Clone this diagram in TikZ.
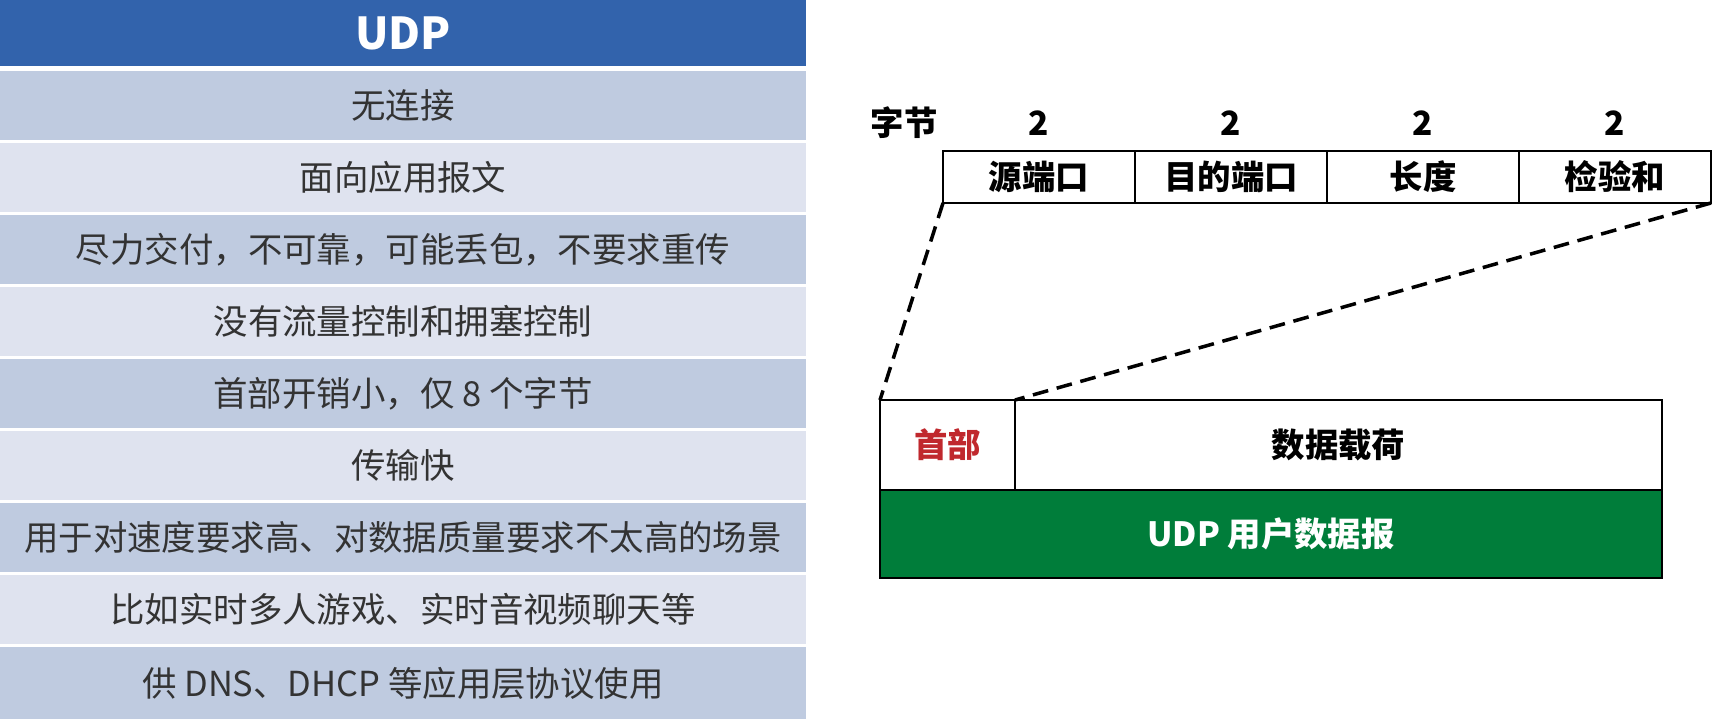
\documentclass[tikz,border=0pt]{standalone}
\usepackage{fontspec}
\usepackage{xcolor}
\setmainfont{Noto Sans CJK SC}
\definecolor{udpblue}{RGB}{50,99,172}
\definecolor{rowdark}{RGB}{191,203,224}
\definecolor{rowlight}{RGB}{223,227,239}
\definecolor{rowtext}{RGB}{51,51,51}
\definecolor{headred}{RGB}{192,40,45}
\definecolor{dgreen}{RGB}{0,125,58}
\tikzstyle{cell}=[minimum width=16.12cm, minimum height=1.38cm, inner sep=0pt, outer sep=0pt, text=rowtext, font=\fontsize{19.6}{24}\selectfont]
\tikzset{darkrow/.style={fill=rowdark}}
\tikzset{lightrow/.style={fill=rowlight}}
\tikzset{fieldbox/.style={draw, line width=1.2pt, minimum width=3.84cm, minimum height=1.04cm, inner sep=0pt, outer sep=0pt, font=\fontsize{19}{23}\selectfont\bfseries}}
\tikzset{bytelabel/.style={font=\fontsize{19}{23}\selectfont\bfseries}}
\tikzset{pkt/.style={draw, line width=1.2pt, inner sep=0pt, outer sep=0pt, font=\fontsize{19}{23}\selectfont\bfseries}}
\tikzset{zoomline/.style={line width=2pt, dash pattern=on 9pt off 5pt}}

\begin{document}
\begin{tikzpicture}
  \useasboundingbox (0,0) rectangle (34.4,-14.38);
  \fill[white] (0,0) rectangle (34.4,-14.38);

  %% UDP table
  \draw (8.06,-0.66) node[cell,fill=udpblue,minimum height=1.32cm,text=white,font=\fontsize{25}{30}\selectfont\bfseries] (T0) {UDP};
  \draw (8.06,-2.11) node[cell,darkrow] (T1) {无连接};
  \draw (8.06,-3.55) node[cell,lightrow] (T2) {面向应用报文};
  \draw (8.06,-4.99) node[cell,darkrow] (T3) {尽力交付，不可靠，可能丢包，不要求重传};
  \draw (8.06,-6.43) node[cell,lightrow] (T4) {没有流量控制和拥塞控制};
  \draw (8.06,-7.87) node[cell,darkrow] (T5) {首部开销小，仅 8 个字节};
  \draw (8.06,-9.31) node[cell,lightrow] (T6) {传输快};
  \draw (8.06,-10.75) node[cell,darkrow] (T7) {用于对速度要求高、对数据质量要求不太高的场景};
  \draw (8.06,-12.19) node[cell,lightrow] (T8) {比如实时多人游戏、实时音视频聊天等};
  \draw (8.06,-13.66) node[cell,darkrow,minimum height=1.44cm] (T9) {供 DNS、DHCP 等应用层协议使用};

  %% header fields
  \draw (18.08,-2.46) node[bytelabel] (B0) {字节};
  \draw (20.78,-2.46) node[bytelabel] (B1) {2};
  \draw (24.62,-2.46) node[bytelabel] (B2) {2};
  \draw (28.46,-2.46) node[bytelabel] (B3) {2};
  \draw (32.30,-2.46) node[bytelabel] (B4) {2};

  \draw (20.78,-3.54) node[fieldbox] (F1) {源端口};
  \draw (24.62,-3.54) node[fieldbox] (F2) {目的端口};
  \draw (28.46,-3.54) node[fieldbox] (F3) {长度};
  \draw (32.30,-3.54) node[fieldbox] (F4) {检验和};

  %% datagram
  \draw (18.95,-8.9) node[pkt,minimum width=2.7cm,minimum height=1.8cm,text=headred] (HD) {首部};
  \draw (26.77,-8.9) node[pkt,minimum width=12.94cm,minimum height=1.8cm] (PL) {数据载荷};
  \draw (25.42,-10.68) node[pkt,fill=dgreen,minimum width=15.64cm,minimum height=1.76cm,text=white] (DG) {UDP 用户数据报};

  \draw[zoomline] (F1.south west) -- (HD.north west);
  \draw[zoomline] (F4.south east) -- (PL.north west);
\end{tikzpicture}
\end{document}
